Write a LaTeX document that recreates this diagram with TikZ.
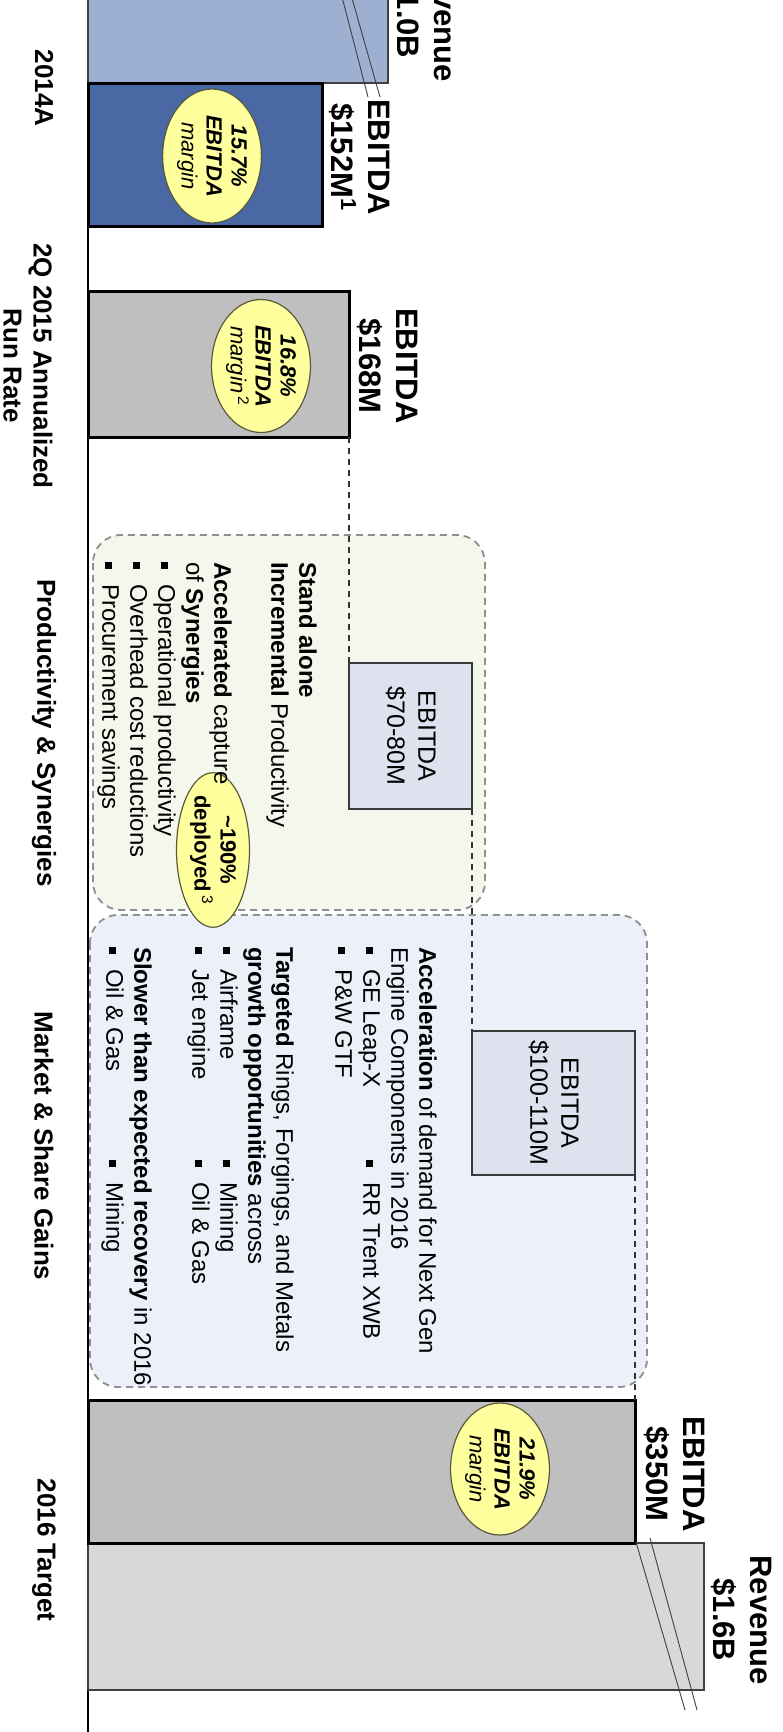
\documentclass[tikz,border=0pt]{standalone}
\usepackage{fontspec}
\setmainfont{Liberation Sans}
\usetikzlibrary{shapes.geometric}
\definecolor{revfill14}{HTML}{9DB0D2}
\definecolor{ebitfill14}{HTML}{4A69A4}
\definecolor{grayfill}{HTML}{BFBFBF}
\definecolor{revfill16}{HTML}{D8D8D8}
\definecolor{revline}{HTML}{404040}
\definecolor{ovalfill}{HTML}{FFFF9E}
\definecolor{ovalline}{HTML}{5A5A3A}
\definecolor{gainfill}{HTML}{DDE2EE}
\definecolor{gainline}{HTML}{3A3A3A}
\definecolor{prodfill}{HTML}{F4F7EC}
\definecolor{mktfill}{HTML}{ECF0F8}
\definecolor{regionline}{HTML}{8F8F8F}

\begin{document}
\begin{tikzpicture}[x=1pt, y=-1pt,
  valuebar/.style={draw=black, line width=3pt, outer sep=0pt, inner sep=0pt, anchor=north west},
  revbar/.style={draw=revline, line width=1.2pt, outer sep=0pt, inner sep=0pt, anchor=north west},
  gainbox/.style={draw=gainline, line width=1.4pt, fill=gainfill, outer sep=0pt, inner sep=0pt, anchor=north west},
  turned/.style={rotate=-90, inner sep=0pt, align=center},
  barlabel/.style={turned, font=\fontsize{31}{37}\selectfont\bfseries},
  catlabel/.style={turned, font=\fontsize{26}{30}\selectfont\bfseries},
  gaintext/.style={turned, font=\fontsize{25}{31}\selectfont},
  bodytext/.style={rotate=-90, inner sep=0pt, align=left, anchor=north west, font=\fontsize{24}{28}\selectfont},
  marginoval/.style={ellipse, draw=ovalline, line width=1.2pt, fill=ovalfill, rotate=-90, inner sep=0pt, align=center, font=\fontsize{22}{25}\selectfont},
  region/.style={draw=regionline, line width=1.8pt, dash pattern=on 7pt off 5pt, rounded corners=28pt},
  link/.style={draw=black!80, line width=1.3pt, dash pattern=on 6pt off 5pt},
  breakline/.style={draw=black!75, line width=0.9pt}]
%bullet square
\newcommand*{\Sq}{\makebox[22pt][l]{\rule[3pt]{7pt}{7pt}}}
\useasboundingbox (0,0) rectangle (783,1732);
\clip (0,0) rectangle (783,1732);
\fill[white] (0,0) rectangle (783,1732);
%shaded regions
\draw[region, fill=prodfill] (93,535) rectangle (485,910);
\draw[region, fill=mktfill] (90,915) rectangle (647,1387);
%axis
\draw[line width=1.5pt] (88,0) -- (88,1732);
%bars
\node[revbar, fill=revfill14, minimum width=300, minimum height=133] (rev14) at (88,-50) {};
\node[valuebar, fill=ebitfill14, minimum width=234, minimum height=143] (ebit14) at (88,83) {};
\node[valuebar, fill=grayfill, minimum width=261, minimum height=146] (bar15) at (88,291) {};
\node[revbar, fill=revfill16, minimum width=616, minimum height=147] (rev16) at (88,1543) {};
\node[valuebar, fill=grayfill, minimum width=547, minimum height=143] (ebit16) at (88,1400) {};
%gain boxes
\node[gainbox, minimum width=123, minimum height=146] (box70) at (349,663) {};
\node[gainbox, minimum width=163, minimum height=144] (box100) at (472,1031) {};
\node[gaintext] (box70txt) at (box70.center) {EBITDA\\\$70-80M};
\node[gaintext] (box100txt) at (box100.center) {EBITDA\\\$100-110M};
%dashed steps
\draw[link] (bar15.south east) -- (box70.north west);
\draw[link] (box70.south east) -- (box100.north west);
\draw[link] (box100.south east) -- (ebit16.north east);
%break marks
\draw[breakline] (335,-30) -- (368,97);
\draw[breakline] (344,-30) -- (380,97);
\draw[breakline] (636,1542) -- (685,1710);
\draw[breakline] (650,1538) -- (697,1710);
%margins
\node[marginoval, minimum width=134, minimum height=97] (oval14) at (212,156)
  {\textbf{\textit{15.7\%}}\\\textbf{\textit{EBITDA}}\\\textit{margin}};
\node[marginoval, minimum width=133, minimum height=95] (oval15) at (261,366)
  {\textbf{\textit{16.8\%}}\\\textbf{\textit{EBITDA}}\\\textit{margin}\,\textsuperscript{2}};
\node[marginoval, minimum width=132, minimum height=95] (oval16) at (500,1469)
  {\textbf{\textit{21.9\%}}\\\textbf{\textit{EBITDA}}\\\textit{margin}};
\node[marginoval, minimum width=124, minimum height=73, font=\fontsize{22}{26}\selectfont\bfseries] (oval190) at (213,850)
  {\textasciitilde190\%\\deployed\,\textsuperscript{\mdseries 3}};
%value labels
\node[barlabel] (lblrev14) at (426,17) {Revenue\\\$1.0B};
\node[barlabel] (lbl14) at (360,157) {EBITDA\\\$152M\textsuperscript{1}};
\node[barlabel] (lbl15) at (388,366) {EBITDA\\\$168M};
\node[barlabel] (lbl16) at (675,1474) {EBITDA\\\$350M};
\node[barlabel] (lblrev16) at (742,1620) {Revenue\\\$1.6B};
%region texts
\node[bodytext] (prodtxt) at (317,562) {\textbf{Stand alone}\\
  \textbf{Incremental} Productivity\\[29pt]
  \textbf{Accelerated} capture\\
  of \textbf{Synergies}\\
  \Sq Operational productivity\\
  \Sq Overhead cost reductions\\
  \Sq Procurement savings};
\node[bodytext] (mkttxt) at (437,947) {\textbf{Acceleration} of demand for Next Gen\\
  Engine Components in 2016\\
  \makebox[213pt][l]{\Sq GE Leap-X}\Sq RR Trent XWB\\
  \Sq P\&W GTF\\[31pt]
  \textbf{Targeted} Rings, Forgings, and Metals\\
  \textbf{growth opportunities} across\\
  \makebox[213pt][l]{\Sq Airframe}\Sq Mining\\
  \makebox[213pt][l]{\Sq Jet engine}\Sq Oil \& Gas\\[30pt]
  \textbf{Slower than expected recovery} in 2016\\
  \makebox[213pt][l]{\Sq Oil \& Gas}\Sq Mining};
%categories
\node[catlabel] (cat14) at (44,88) {2014A};
\node[catlabel] (cat15) at (28,366) {2Q 2015 Annualized\\Run Rate};
\node[catlabel] (catprod) at (44,733) {Productivity \& Synergies};
\node[catlabel] (catmkt) at (44,1146) {Market \& Share Gains};
\node[catlabel] (cat16) at (44,1550) {2016 Target};
\end{tikzpicture}
\end{document}
